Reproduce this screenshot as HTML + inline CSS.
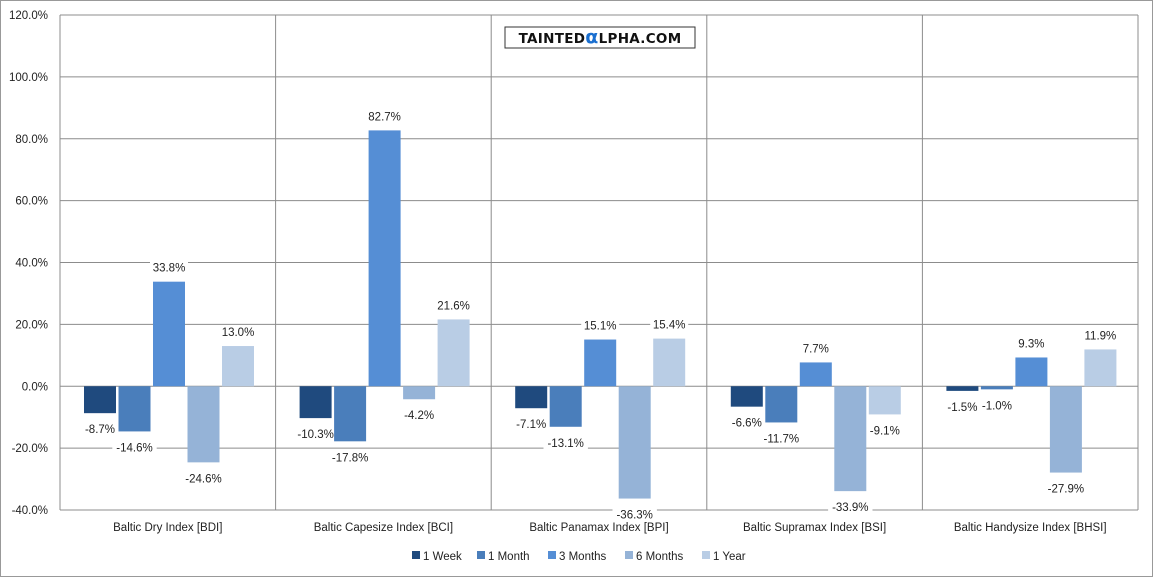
<!DOCTYPE html>
<html><head><meta charset="utf-8"><style>
body{margin:0;background:#fff;}
svg text{font-family:"Liberation Sans","DejaVu Sans",sans-serif;font-size:11.5px;fill:#222;}
</style></head><body>
<svg id="c" width="1153" height="577" xmlns="http://www.w3.org/2000/svg">
<rect x="0.5" y="0.5" width="1152" height="576" fill="#fff" stroke="#999"/>
<g id="grid"></g><g id="lbg"></g><g id="bars"></g><g id="labels"></g>
<g>
<rect x="505" y="27" width="190" height="21" fill="#fff" stroke="#333"/>
<text x="600" y="43" text-anchor="middle" style="font-family:'DejaVu Sans',sans-serif;font-size:13.5px;font-weight:bold;fill:#111;letter-spacing:0.3px">TAINTED<tspan style="fill:#1a6fd0;font-size:19px">α</tspan>LPHA.COM</text>
</g>
<g id="legend"></g>
</svg>
<script>
const categories=["Baltic Dry Index [BDI]","Baltic Capesize Index [BCI]","Baltic Panamax Index [BPI]","Baltic Supramax Index [BSI]","Baltic Handysize Index [BHSI]"];
const seriesNames=["1 Week","1 Month","3 Months","6 Months","1 Year"];
const week=[-8.7,-10.3,-7.1,-6.6,-1.5];
const month=[-14.6,-17.8,-13.1,-11.7,-1.0];
const months3=[33.8,82.7,15.1,7.7,9.3];
const months6=[-24.6,-4.2,-36.3,-33.9,-27.9];
const year1=[13.0,21.6,15.4,-9.1,11.9];
const yTicks=[-40,-20,0,20,40,60,80,100,120];
const series=[week,month,months3,months6,year1];
const colors=["#1f4a7e","#4a7ebb","#558ed5","#95b3d7","#b9cde5"];
const NS="http://www.w3.org/2000/svg";
const L=60,R=1138,T=15,B=510;
const y=v=>T+(120-v)/160*(B-T);
const gw=(R-L)/categories.length;
function mk(tag,attrs,parent){const e=document.createElementNS(NS,tag);for(const k in attrs)e.setAttribute(k,attrs[k]);document.getElementById(parent).appendChild(e);return e;}
yTicks.forEach(t=>{
 const l=mk('line',{x1:L,x2:R,y1:y(t),y2:y(t),stroke:'#8c8c8c','stroke-width':1},'grid');
 
 
 const tx=mk('text',{x:L-12,y:y(t)+4,'text-anchor':'end'},'grid');
 tx.textContent=t.toFixed(1)+'%';
 
 
});
for(let i=0;i<=categories.length;i++){
 const l=mk('line',{x1:L+i*gw,x2:L+i*gw,y1:T,y2:B,stroke:'#8c8c8c'},'grid');
 
 
}
categories.forEach((c,i)=>{
 const tx=mk('text',{x:L+i*gw+gw/2,y:531,'text-anchor':'middle'},'labels');
 tx.textContent=c;
 
 
 series.forEach((s,j)=>{
  const v=s[i],x0=L+i*gw+24+j*34.5,y0=y(0),y1=y(v);
  const r=mk('rect',{x:x0,y:Math.min(y0,y1),width:32,height:Math.abs(y1-y0),fill:colors[j]},'bars');
  
  
  const ly=v>=0?y1-14:y1+16;
  const txt=v.toFixed(1)+'%';
  const w=txt.length*6.4+6;
  const bg=mk('rect',{x:x0+16-w/2,y:ly-7,width:w,height:14,fill:'#fff'},'lbg');
  
  
  const t=mk('text',{x:x0+16,y:ly+4,'text-anchor':'middle'},'labels');
  t.textContent=txt;
  
  
 });
});
const lx=[412,477,548,625,702];
seriesNames.forEach((n,j)=>{
 const r=mk('rect',{x:lx[j],y:551,width:8,height:8,fill:colors[j]},'legend');
 
 
 const t=mk('text',{x:lx[j]+11,y:560},'legend');
 t.textContent=n;
 
 
});
</script>
</body></html>
